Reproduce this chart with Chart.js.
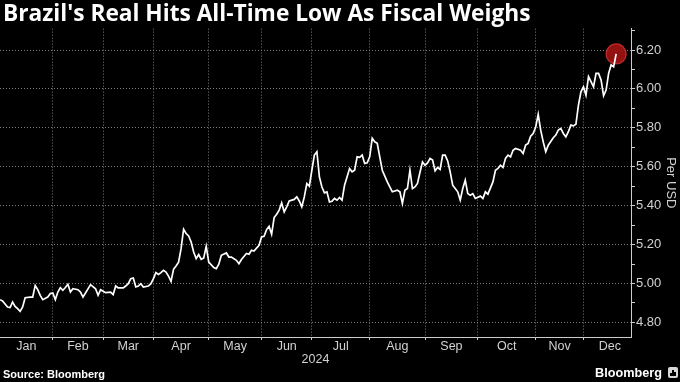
<!DOCTYPE html>
<html><head><meta charset="utf-8">
<script src="https://cdn.jsdelivr.net/npm/chart.js@4.4.1/dist/chart.umd.min.js"></script>
<style>
html,body{margin:0;padding:0;background:#000;width:680px;height:382px;overflow:hidden;}
#title{position:absolute;left:3px;top:0;color:#fff;font-family:"Open Sans",sans-serif;font-weight:700;font-size:19px;line-height:26px;white-space:nowrap;}
#source{position:absolute;left:3px;top:367px;color:#fff;font-family:"Liberation Sans",sans-serif;font-weight:700;font-size:11px;line-height:14px;white-space:nowrap;}
#brand{position:absolute;right:18px;top:366px;color:#fff;font-family:"Liberation Sans",sans-serif;font-weight:700;font-size:12.7px;line-height:15px;white-space:nowrap;}
#icon{position:absolute;left:668px;top:367px;width:10px;height:11px;background:#d8d8d8;border-radius:2px;}
#icon i{position:absolute;bottom:2px;width:2px;background:#000;}
</style>
</head><body>
<canvas id="chart" width="680" height="382"></canvas>
<div id="title"></div>
<div id="source"></div>
<div id="brand"></div>
<div id="icon"><i style="left:2px;height:3px"></i><i style="left:4px;height:6px"></i><i style="left:6px;height:4px"></i></div>
<script>
// ---- text ----
const titleText = "Brazil's Real Hits All-Time Low As Fiscal Weighs";
const sourceText = "Source: Bloomberg";
const brandText = "Bloomberg";
const yAxisTitle = "Per USD";
const yearLabel = "2024";

// ---- categories / axis ----
const monthNames = ["Jan","Feb","Mar","Apr","May","Jun","Jul","Aug","Sep","Oct","Nov","Dec"];
// trading-session index at which each month starts (last entry = end of Dec)
const monthStarts = [0,21,41,61,83,104,124,147,169,190,213,232,253];
const yTickValues = [4.8,4.9,5.0,5.1,5.2,5.3,5.4,5.5,5.6,5.7,5.8,5.9,6.0,6.1,6.2,6.3];
const yTickLabels = ["4.80","5.00","5.20","5.40","5.60","5.80","6.00","6.20"];

// ---- series: BRL per USD, by trading session of 2024 ----
const sessions = [
  0,1,3,4,5,6,7,8,9,10,12,13,14,15,16,17,19,20,21,22,23,24,25,26,27,28,29,31,32,33,34,36,38,39,
  40,41,42,44,45,46,47,49,50,51,52,53,54,55,56,57,59,60,61,62,63,64,65,66,67,68,69,70,71,72,73,74,75,76,77,78,79,
  80,81,82,83,85,86,87,88,90,91,92,94,95,96,98,99,100,101,103,104,105,106,107,108,109,110,111,112,113,114,115,117,118,119,120,121,122,123,
  124,125,126,127,128,129,130,131,132,133,134,135,136,137,139,140,141,142,143,144,145,146,147,148,149,150,151,152,154,155,156,158,159,160,161,162,163,164,165,166,
  167,168,169,170,171,172,173,174,175,176,177,178,179,180,182,183,184,185,186,187,188,189,191,192,193,194,196,197,198,199,200,201,202,203,204,205,207,208,209,210,211,212,
  213,214,215,216,217,218,220,221,222,223,224,225,226,227,228,229,230,231,232,233,234,235,236,237,238,239,240,241,242,243,244,245
];
const brl = [
  4.917,4.910,4.879,4.876,4.904,4.882,4.871,4.857,4.879,4.927,4.930,4.930,4.990,4.968,4.939,4.917,4.930,4.948,4.951,4.917,4.956,4.979,4.965,4.979,4.996,4.956,4.973,4.968,4.956,4.930,4.951,4.994,4.973,4.939,
  4.968,4.960,4.953,4.956,4.943,4.987,4.977,4.977,4.987,4.999,5.025,5.028,4.982,4.987,4.999,4.982,4.987,4.999,5.025,5.056,5.046,5.056,5.068,5.059,5.038,5.011,5.073,5.090,5.110,5.179,5.279,5.257,5.244,5.213,5.162,5.128,5.149,
  5.124,5.131,5.191,5.110,5.082,5.076,5.099,5.145,5.157,5.136,5.136,5.119,5.102,5.123,5.154,5.150,5.171,5.167,5.196,5.239,5.243,5.277,5.294,5.253,5.339,5.356,5.377,5.414,5.368,5.394,5.424,5.432,5.445,5.424,5.394,5.445,5.514,5.500,
  5.582,5.660,5.677,5.548,5.496,5.466,5.471,5.419,5.423,5.437,5.428,5.442,5.428,5.505,5.591,5.574,5.582,5.651,5.648,5.660,5.617,5.620,5.651,5.746,5.728,5.720,5.651,5.582,5.522,5.496,5.471,5.479,5.471,5.411,5.479,5.488,5.582,5.488,5.496,5.514,
  5.572,5.625,5.608,5.620,5.643,5.634,5.579,5.596,5.586,5.660,5.660,5.630,5.574,5.505,5.471,5.428,5.488,5.531,5.462,5.454,5.462,5.437,5.449,5.437,5.471,5.459,5.522,5.582,5.591,5.608,5.596,5.643,5.660,5.651,5.685,5.694,5.685,5.668,5.711,5.720,5.757,5.771,
  5.804,5.869,5.788,5.728,5.677,5.711,5.749,5.763,5.788,5.797,5.771,5.754,5.780,5.814,5.810,5.818,5.917,5.985,6.011,5.968,6.063,6.037,6.011,6.080,6.080,6.046,5.965,5.994,6.080,6.123,6.114,6.180
];

// ---- text setup ----
const tEl = document.getElementById('title');
tEl.textContent = titleText;
const tw = tEl.offsetWidth;
if (tw > 0) tEl.style.fontSize = (19 * 527 / tw).toFixed(2) + 'px';
document.getElementById('source').textContent = sourceText;
document.getElementById('brand').textContent = brandText;

// ---- chart ----
const lineData = sessions.map((s, i) => ({x: s, y: brl[i]}));
const lastIdx = sessions.length - 1;
const lastPoint = [{x: sessions[lastIdx], y: brl[lastIdx]}];

const axisColor = '#cccccc';
const gridColor = '#7a7a7a';
const labelColor = '#d2d2d2';
const fontFam = "'Liberation Sans', Arial, sans-serif";

new Chart(document.getElementById('chart'), {
  type: 'line',
  data: {
    datasets: [
      {data: lineData, borderColor: '#ffffff', borderWidth: 1.7, pointRadius: 0, tension: 0, fill: false},
      {data: lastPoint, showLine: false, pointRadius: 10, pointHoverRadius: 10,
       pointBackgroundColor: 'rgba(160,18,18,0.92)', pointBorderColor: 'rgba(215,50,50,0.85)', pointBorderWidth: 1.2}
    ]
  },
  options: {
    responsive: false,
    animation: false,
    events: [],
    layout: {autoPadding: false, padding: {top: 28.6, left: 0, right: 0, bottom: 0}},
    plugins: {legend: {display: false}, tooltip: {enabled: false}},
    scales: {
      x: {
        type: 'linear', position: 'bottom', weight: 0, min: 0, max: 250.9,
        afterBuildTicks: s => { s.ticks = monthStarts.slice(1, 12).map(v => ({value: v})); },
        ticks: {display: false},
        grid: {color: gridColor, lineWidth: 1, drawTicks: true, tickLength: 3, tickColor: axisColor, tickWidth: 1},
        border: {display: true, color: axisColor, width: 1, dash: [1, 2]},
        afterFit: s => { s.height = 3; }
      },
      xm: {
        type: 'linear', position: 'bottom', weight: 1, min: 0, max: 250.9,
        afterBuildTicks: s => { s.ticks = monthNames.map((m, i) => ({value: (monthStarts[i] + monthStarts[i + 1]) / 2})); },
        ticks: {autoSkip: false, maxRotation: 0, minRotation: 0, padding: -1, color: labelColor,
                font: {family: fontFam, size: 12.5}, callback: (v, i) => monthNames[i]},
        grid: {display: false, drawTicks: false},
        border: {display: false},
        title: {display: true, text: yearLabel, color: labelColor, font: {family: fontFam, size: 12.5}, padding: {top: 0, bottom: 15}},
        afterFit: s => { s.height = 42; }
      },
      y: {
        type: 'linear', position: 'right', min: 4.725, max: 6.31,
        afterBuildTicks: s => { s.ticks = yTickValues.map(v => ({value: v})); },
        ticks: {color: labelColor, padding: 1, font: {family: fontFam, size: 13},
                callback: v => { const t = Number(v).toFixed(2); return yTickLabels.includes(t) ? t : ''; }},
        grid: {
          color: c => (c.tick && !yTickLabels.includes(Number(c.tick.value).toFixed(2))) ? 'rgba(0,0,0,0)' : gridColor,
          lineWidth: 1, drawTicks: true, tickLength: 4, tickColor: axisColor, tickWidth: 1
        },
        border: {display: true, color: axisColor, width: 1, dash: [1, 2]},
        title: {display: true, text: yAxisTitle, color: labelColor, font: {family: fontFam, size: 13}, padding: {top: 2, bottom: 0}},
        afterFit: s => { s.width = 49; }
      }
    }
  }
});
</script>
</body></html>
